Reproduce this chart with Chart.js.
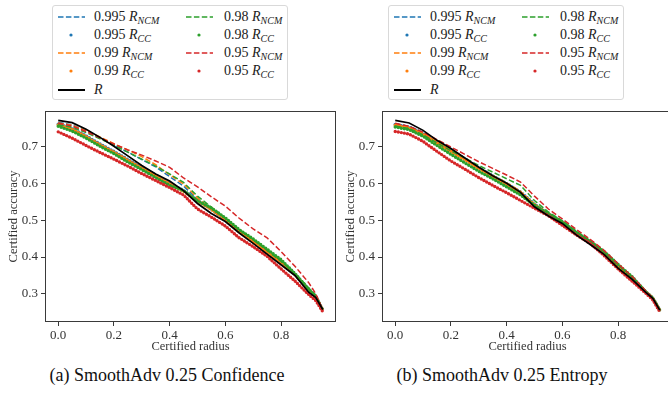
<!DOCTYPE html>
<html>
<head>
<meta charset="utf-8">
<script src="https://cdn.jsdelivr.net/npm/chart.js@4.4.0/dist/chart.umd.min.js"></script>
<style>
  body { margin: 0; width: 668px; height: 393px; overflow: hidden; background: #fff; position: relative; font-family: "Liberation Serif", serif; color: #222; }
  canvas { position: absolute; top: 100px; }
  .legend { position: absolute; top: 5px; width: 234px; height: 93px; border: 1px solid #d9d9d9; border-radius: 3px; background: #fff; }
  .entry { position: absolute; height: 18px; font-size: 14px; line-height: 18px; white-space: nowrap; }
  .entry svg { position: absolute; left: 0; top: 0; }
  .entry span { position: absolute; top: 0; }
  .entry sub { font-size: 10px; font-style: italic; vertical-align: -3px; line-height: 0; }
  .caption { position: absolute; top: 364px; width: 334px; text-align: center; font-size: 18px; line-height: 22px; color: #111; }
</style>
</head>
<body>
<div class="legend" id="legA" style="left:52px"></div>
<div class="legend" id="legB" style="left:388px"></div>
<canvas id="chartA" width="337" height="260" style="left:0px"></canvas>
<canvas id="chartB" width="337" height="260" style="left:337px"></canvas>
<div class="caption" style="left:0px">(a) SmoothAdv 0.25 Confidence</div>
<div class="caption" style="left:335px">(b) SmoothAdv 0.25 Entropy</div>
<script>
const radius = [0, 0.05, 0.1, 0.15, 0.2, 0.25, 0.3, 0.35, 0.4, 0.45, 0.5, 0.55, 0.6, 0.65, 0.7, 0.75, 0.8, 0.85, 0.9, 0.925, 0.95];
const xTicks = [0, 0.2, 0.4, 0.6, 0.8];
const yTicks = [0.3, 0.4, 0.5, 0.6, 0.7];
const coverages = ['0.995', '0.99', '0.98', '0.95'];
const colors = ['#1f77b4', '#ff7f0e', '#2ca02c', '#d62728'];

// (a) Confidence
const confR      = [0.770,0.764,0.746,0.724,0.700,0.674,0.648,0.625,0.606,0.580,0.545,0.518,0.496,0.465,0.437,0.408,0.379,0.350,0.304,0.290,0.258];
const confNcm995 = [0.765,0.758,0.742,0.722,0.703,0.684,0.664,0.644,0.618,0.592,0.556,0.527,0.498,0.468,0.440,0.412,0.382,0.350,0.310,0.292,0.258];
const confCc995  = [0.760,0.748,0.728,0.706,0.686,0.664,0.643,0.622,0.600,0.580,0.553,0.530,0.503,0.470,0.444,0.416,0.388,0.354,0.312,0.292,0.256];
const confNcm99  = [0.763,0.757,0.742,0.725,0.707,0.690,0.672,0.650,0.623,0.598,0.560,0.530,0.500,0.470,0.442,0.414,0.384,0.352,0.312,0.293,0.258];
const confCc99   = [0.758,0.746,0.726,0.704,0.684,0.662,0.641,0.620,0.598,0.578,0.552,0.529,0.502,0.469,0.443,0.415,0.387,0.353,0.311,0.291,0.256];
const confNcm98  = [0.758,0.752,0.737,0.720,0.703,0.684,0.665,0.646,0.625,0.602,0.565,0.535,0.505,0.475,0.447,0.418,0.388,0.356,0.316,0.296,0.258];
const confCc98   = [0.754,0.741,0.722,0.700,0.680,0.657,0.637,0.615,0.594,0.580,0.552,0.533,0.506,0.474,0.449,0.421,0.393,0.355,0.312,0.294,0.255];
const confNcm95  = [0.762,0.755,0.740,0.723,0.706,0.690,0.676,0.660,0.643,0.614,0.590,0.563,0.538,0.505,0.476,0.452,0.415,0.375,0.330,0.300,0.258];
const confCc95   = [0.739,0.722,0.702,0.683,0.665,0.646,0.626,0.607,0.588,0.568,0.530,0.508,0.484,0.452,0.428,0.402,0.368,0.335,0.298,0.282,0.252];

// (b) Entropy
const entR      = [0.770,0.763,0.743,0.716,0.694,0.668,0.643,0.620,0.600,0.575,0.536,0.511,0.491,0.460,0.434,0.407,0.370,0.340,0.304,0.288,0.256];
const entNcm995 = [0.761,0.754,0.737,0.713,0.691,0.667,0.643,0.621,0.600,0.577,0.540,0.514,0.493,0.463,0.437,0.410,0.373,0.342,0.305,0.288,0.256];
const entCc995  = [0.759,0.752,0.735,0.711,0.688,0.666,0.642,0.620,0.599,0.576,0.543,0.517,0.495,0.466,0.441,0.413,0.377,0.345,0.305,0.288,0.256];
const entNcm99  = [0.760,0.753,0.736,0.712,0.690,0.666,0.642,0.621,0.601,0.578,0.540,0.514,0.493,0.463,0.437,0.410,0.373,0.342,0.305,0.288,0.256];
const entCc99   = [0.757,0.750,0.733,0.709,0.686,0.664,0.640,0.618,0.597,0.574,0.542,0.516,0.494,0.465,0.440,0.412,0.376,0.344,0.305,0.288,0.256];
const entNcm98  = [0.755,0.748,0.731,0.709,0.688,0.668,0.648,0.630,0.612,0.594,0.553,0.522,0.498,0.470,0.444,0.415,0.380,0.346,0.306,0.289,0.256];
const entCc98   = [0.752,0.745,0.727,0.702,0.678,0.655,0.632,0.612,0.590,0.568,0.540,0.517,0.495,0.467,0.442,0.415,0.380,0.347,0.306,0.289,0.256];
const entNcm95  = [0.762,0.754,0.738,0.718,0.698,0.678,0.658,0.640,0.622,0.603,0.565,0.530,0.503,0.475,0.448,0.418,0.382,0.348,0.308,0.290,0.256];
const entCc95   = [0.740,0.733,0.713,0.686,0.660,0.638,0.615,0.594,0.574,0.553,0.532,0.512,0.486,0.460,0.437,0.404,0.368,0.335,0.302,0.284,0.252];

const confSets = [[confNcm995, confCc995], [confNcm99, confCc99], [confNcm98, confCc98], [confNcm95, confCc95]];
const entSets  = [[entNcm995, entCc995], [entNcm99, entCc99], [entNcm98, entCc98], [entNcm95, entCc95]];

function pts(vals) {
  return radius.map((r, i) => ({ x: r, y: vals[i] }));
}

function makeDatasets(sets, rVals) {
  const ds = [];
  let order = 9;
  sets.forEach((pair, i) => {
    ds.push({ data: pts(pair[0]), borderColor: colors[i], borderWidth: 1.5, borderDash: [5.5, 2.4], pointRadius: 0, tension: 0, order: order-- });
    ds.push({ data: pts(pair[1]), borderColor: colors[i], borderWidth: 3.4, borderDash: [0, 3.1], borderCapStyle: 'round', pointRadius: 0, tension: 0, order: order-- });
  });
  ds.push({ data: pts(rVals), borderColor: '#000', borderWidth: 1.7, pointRadius: 0, tension: 0, order: 0 });
  return ds;
}

const frame = {
  id: 'frame',
  afterDraw(chart) {
    const { ctx, chartArea: a } = chart;
    ctx.save();
    ctx.strokeStyle = '#3a3a3a';
    ctx.lineWidth = 1;
    ctx.strokeRect(Math.round(a.left) + 0.5, Math.round(a.top) + 0.5, Math.round(a.right - a.left) - 1, Math.round(a.bottom - a.top) - 1);
    ctx.restore();
  }
};

const tickFont = { family: 'Liberation Serif', size: 13 };
const titleFont = { family: 'Liberation Serif', size: 12.5 };

function makeChart(id, sets, rVals) {
  return new Chart(document.getElementById(id), {
    type: 'line',
    data: { datasets: makeDatasets(sets, rVals) },
    options: {
      responsive: false,
      animation: false,
      layout: { padding: { top: 7, right: 1, left: 0, bottom: 0 } },
      plugins: { legend: { display: false }, tooltip: { enabled: false } },
      scales: {
        x: {
          type: 'linear', min: -0.0475, max: 0.9975,
          afterBuildTicks: s => { s.ticks = xTicks.map(v => ({ value: v })); },
          afterFit: s => { s.height = 38; },
          ticks: { font: tickFont, color: '#333', padding: 2, maxRotation: 0, callback: v => v.toFixed(1) },
          grid: { drawOnChartArea: false, tickLength: 4, color: '#3a3a3a' },
          border: { display: false },
          title: { display: true, text: 'Certified radius', font: titleFont, color: '#333', padding: { top: 0, bottom: 5.5 } }
        },
        y: {
          type: 'linear', min: 0.224, max: 0.796,
          afterBuildTicks: s => { s.ticks = yTicks.map(v => ({ value: v })); },
          afterFit: s => { s.width = 45; },
          ticks: { font: tickFont, color: '#333', padding: 3, callback: v => v.toFixed(1) },
          grid: { drawOnChartArea: false, tickLength: 4, color: '#3a3a3a' },
          border: { display: false },
          title: { display: true, text: 'Certified accuracy', font: titleFont, color: '#333', padding: { top: 6.5, bottom: 0 } }
        }
      }
    },
    plugins: [frame]
  });
}

makeChart('chartA', confSets, confR);
makeChart('chartB', entSets, entR);

// legend
function sample(kind, color) {
  if (kind === 'ncm') return '<svg width="27" height="18"><line x1="0" y1="9" x2="27" y2="9" stroke="' + color + '" stroke-width="1.5" stroke-dasharray="5.5 2.4"/></svg>';
  if (kind === 'cc') return '<svg width="27" height="18"><circle cx="13" cy="9" r="1.6" fill="' + color + '"/></svg>';
  return '<svg width="27" height="18"><line x1="0" y1="9" x2="27" y2="9" stroke="#000" stroke-width="2"/></svg>';
}
function buildLegend(el) {
  const entries = [];
  coverages.forEach((c, i) => {
    entries.push({ kind: 'ncm', color: colors[i], html: c + ' <i>R</i><sub>NCM</sub>' });
    entries.push({ kind: 'cc', color: colors[i], html: c + ' <i>R</i><sub>CC</sub>' });
  });
  const rEntry = { kind: 'r', color: '#000', html: '<i>R</i>' };
  // first column: 0.995 and 0.99 pairs plus R; second column: 0.98 and 0.95 pairs
  const columns = [entries.slice(0, 4).concat([rEntry]), entries.slice(4)];
  const colX = [[5, 41], [133, 171]];
  columns.forEach((list, col) => {
    list.forEach((e, row) => {
      const d = document.createElement('div');
      d.className = 'entry';
      d.style.left = colX[col][0] + 'px';
      d.style.top = (1.7 + row * 18.2) + 'px';
      d.innerHTML = sample(e.kind, e.color) + '<span style="left:' + (colX[col][1] - colX[col][0]) + 'px">' + e.html + '</span>';
      el.appendChild(d);
    });
  });
}
buildLegend(document.getElementById('legA'));
buildLegend(document.getElementById('legB'));
</script>
</body>
</html>
